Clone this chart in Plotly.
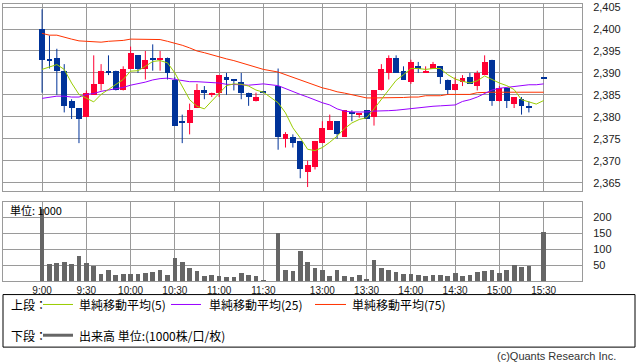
import plotly.graph_objects as go

# ---------------- data ----------------
am_times = [f"{9 + (5 * k) // 60}:{(5 * k) % 60:02d}" for k in range(31)]          # 9:00 .. 11:30
pm_times = [f"{12 + (30 + 5 * k) // 60}:{(30 + 5 * k) % 60:02d}" for k in range(37)]  # 12:30 .. 15:30
times = am_times + pm_times

open_ = [2400, 2393, 2393.5, 2390.5, 2383.5, 2382, 2380, 2385, 2387.5, 2390.5, 2390.5, 2386, 2391, 2394, 2391,
         2393.5, 2393, 2393.5, 2388.5, 2379, 2378.5, 2382, 2386, 2385, 2385.5, 2389, 2388.5, 2388, 2385.5, 2383.5, 2385.7,
         2387, 2375, 2375.5, 2374.5, 2367.5, 2368.5, 2374, 2377, 2379, 2375.5, 2381, 2380.3, 2381.5, 2380, 2386, 2390,
         2393.5, 2390.5, 2388, 2391.5, 2390, 2391, 2391.5, 2388.5, 2386, 2388, 2389, 2387, 2389.5, 2393, 2383.5, 2386.5,
         2383, 2384, 2382.5, None, 2389]
high = [2404.5, 2398.5, 2395.5, 2392, 2384, 2382, 2386, 2394, 2392, 2394, 2390.5, 2391.5, 2396, 2394, 2395,
        2396.5, 2395, 2393.5, 2389, 2380.5, 2383, 2387.5, 2387, 2385.5, 2389.5, 2390, 2388.5, 2390, 2385.5, 2385.5, 2385.7,
        2391, 2376.5, 2376, 2374.5, 2370, 2374.5, 2379, 2380.5, 2379, 2381.5, 2381.5, 2380.8, 2381.5, 2386, 2392, 2394,
        2394, 2391.5, 2393, 2392.5, 2391.5, 2392.5, 2391.5, 2388.5, 2389, 2389.5, 2390, 2390.5, 2394, 2393, 2387, 2386.5,
        2384.5, 2384.5, 2383.5, None, 2389]
low = [2385.5, 2391, 2385, 2381, 2379.5, 2374, 2380, 2385, 2386, 2389.5, 2386, 2386, 2391, 2390, 2388.5,
       2390.5, 2390.5, 2388.5, 2378, 2374, 2376, 2382, 2384, 2384.5, 2384.5, 2385, 2386, 2384, 2382.5, 2383.5, 2385.5,
       2372.5, 2373, 2373, 2366, 2364, 2368, 2374, 2377, 2375, 2375.5, 2379, 2379.8, 2379.5, 2378, 2386, 2388.5,
       2390, 2388.5, 2387.5, 2390, 2390, 2391, 2387.5, 2385, 2386, 2387, 2387.5, 2386, 2389.5, 2382.5, 2383.5, 2382,
       2382, 2380.5, 2381, None, 2388.8]
close = [2393, 2392.8, 2390.5, 2382.5, 2382, 2379.5, 2385.5, 2387.5, 2390.5, 2390, 2386, 2391, 2394.5, 2391, 2393,
         2393, 2393.5, 2390, 2378, 2378.5, 2381.5, 2386, 2385.5, 2385.5, 2389.5, 2388.5, 2388.2, 2385.5, 2384.5, 2384.5, 2385.5,
         2375.5, 2376, 2374, 2368, 2369, 2374.5, 2377.5, 2379, 2376, 2381.5, 2380.8, 2380.8, 2379.5, 2386, 2391, 2393.5,
         2390, 2388.5, 2392.5, 2391, 2390.5, 2392, 2389, 2386, 2387.5, 2388.8, 2387.5, 2390, 2392.5, 2383.5, 2386.5, 2383.5,
         2384.5, 2382.5, 2382, None, 2388.8]
volume = [225, 51, 54, 57, 51, 76, 54, 45, 20, 32, 17, 20, 20, 20, 23, 26, 32, 17, 70, 57, 39, 29, 14, 17, 14, 10,
          10, 23, 17, 14, 2,
          149, 35, 29, 92, 60, 40, 32, 14, 32, 14, 10, 17, 4, 64, 39, 35, 26, 20, 20, 17, 14, 17, 17, 14, 23, 14, 17,
          26, 31, 35, 23, 32, 48, 42, 45, None, 154]
ma5 = [2390.8, 2391.3, 2391.9, 2390.8, 2387.7, 2385.1, 2384.3, 2383.4, 2385.1, 2386.2, 2387.3, 2388.5, 2390.4, 2390.5,
       2391.5, 2392.6, 2392.8, 2392.3, 2390.0, 2387.0, 2383.9, 2382.4, 2381.8, 2383.6, 2385.3, 2387.1, 2387.5, 2387.4,
       2387.0, 2386.1, 2385.6,
       2383.2, 2380.9, 2377.5, 2375.2, 2372.6, 2372.3, 2373.0, 2374.2, 2375.6, 2377.3, 2378.6, 2379.4, 2379.8, 2381.8,
       2383.9, 2386.1, 2388.3, 2389.6, 2391.0, 2391.0, 2390.8, 2391.0, 2391.0, 2389.6, 2388.6, 2388.1, 2387.7, 2388.2,
       2389.3, 2388.5, 2387.7, 2387.1, 2386.2, 2383.9, 2383.4, 2382.9, 2383.7]
ma25 = [2384.2, 2384.4, 2384.7, 2384.7, 2384.5, 2384.5, 2385.1, 2385.3, 2385.8, 2386.1, 2386.4, 2386.7, 2387.2, 2387.5,
        2387.9, 2388.4, 2388.7, 2388.8, 2388.5, 2388.3, 2388.0, 2388.0, 2387.9, 2387.7, 2387.7, 2387.4, 2387.4, 2387.3,
        2387.2, 2387.3, 2387.5,
        2387.1, 2386.4, 2385.8, 2385.1, 2384.5, 2383.8, 2383.2, 2382.7, 2381.8, 2381.3, 2381.1, 2381.1, 2381.1, 2381.3,
        2381.3, 2381.4, 2381.5, 2381.7, 2381.8, 2382.0, 2382.2, 2382.4, 2382.5, 2382.6, 2382.7, 2383.5, 2383.9, 2384.5,
        2385.3, 2386.1, 2386.5, 2386.7, 2386.9, 2387.2, 2387.3, 2387.3, 2387.5]
ma75 = [2399.0, 2398.6, 2398.6, 2398.1, 2397.7, 2397.3, 2397.2, 2397.0, 2397.0, 2397.2, 2397.3, 2397.4, 2397.7, 2397.7,
        2397.7, 2397.7, 2397.6, 2397.2, 2396.8, 2396.3, 2395.7, 2395.0, 2394.6, 2394.1, 2393.6, 2393.2, 2392.8, 2392.3,
        2391.8, 2391.3, 2390.8,
        2390.2, 2389.6, 2388.9, 2388.3, 2387.8, 2387.2, 2386.6, 2386.2, 2385.7, 2385.4, 2385.0, 2384.6, 2384.3, 2384.3,
        2384.3, 2384.3, 2384.3, 2384.4, 2384.5, 2384.5, 2384.8, 2384.8, 2384.8, 2385.1, 2385.1, 2385.1, 2385.1, 2385.5,
        2385.6, 2385.6, 2385.6, 2385.6, 2385.6, 2385.6, 2385.6, 2385.6, 2385.6]

tick_labels = ["9:00", "9:30", "10:00", "10:30", "11:00", "11:30",
               "13:00", "13:30", "14:00", "14:30", "15:00", "15:30"]
price_ticks = [2365, 2370, 2375, 2380, 2385, 2390, 2395, 2400, 2405]
vol_ticks = [50, 100, 150, 200]

# ---------------- styling ----------------
RED = "#FF0033"
BLUE = "#003399"
GRID = "#9a9a9a"
W, H = 638, 362
FONT_T = "Liberation Sans, Arial, sans-serif"
FONT_J = "Noto Sans CJK JP, sans-serif"


def slot(t):
    h, m = map(int, t.split(":"))
    mins = h * 60 + m
    return (mins - 540) / 5 if mins <= 690 else (mins - 750) / 5 + 32


xs = [slot(t) for t in times]

fig = go.Figure()

# candle wicks and bodies
body_x, body_base, body_h, body_c = [], [], [], []
wick = {RED: ([], []), BLUE: ([], [])}
for x, o, h, l, c in zip(xs, open_, high, low, close):
    if o is None:
        continue
    col = RED if c > o else BLUE
    body_x.append(x)
    body_base.append(min(o, c))
    body_h.append(max(abs(c - o), 0.3))
    body_c.append(col)
    wx, wy = wick[col]
    wx += [x, x, None]
    wy += [l, h, None]

for col, (wx, wy) in wick.items():
    fig.add_trace(go.Scatter(x=wx, y=wy, mode="lines", line=dict(color=col, width=1),
                             hoverinfo="skip", xaxis="x", yaxis="y"))
fig.add_trace(go.Bar(x=body_x, y=body_h, base=body_base, width=0.8,
                     marker=dict(color=body_c, line=dict(width=0)), xaxis="x", yaxis="y"))

for vals, col in ((ma75, "#FF3300"), (ma25, "#9900FF"), (ma5, "#99CC00")):
    fig.add_trace(go.Scatter(x=xs, y=vals, mode="lines", line=dict(color=col, width=1),
                             xaxis="x", yaxis="y"))

fig.add_trace(go.Bar(x=xs, y=volume, width=0.64, marker=dict(color="#666666", line=dict(width=0)),
                     xaxis="x2", yaxis="y2"))

xdom = [3 / W, 582 / W]
tickvals = [slot(t) for t in tick_labels]
xcommon = dict(domain=xdom, range=[-5.3, 73.2], tickvals=tickvals, ticktext=tick_labels,
               showgrid=True, gridcolor=GRID, gridwidth=1, zeroline=False,
               showline=True, mirror=True, linecolor=GRID, linewidth=1, ticks="")
ycommon = dict(side="right", showgrid=True, gridcolor=GRID, gridwidth=1, zeroline=False,
               showline=True, mirror=True, linecolor=GRID, linewidth=1, ticks="",
               ticklabelstandoff=8, ticklabeloverflow="allow",
               tickfont=dict(family=FONT_T, size=11, color="#222"))

fig.update_layout(
    width=W, height=H, margin=dict(l=0, r=0, t=0, b=0),
    paper_bgcolor="white", plot_bgcolor="white", showlegend=False,
    barmode="overlay", bargap=0,
    xaxis=dict(**xcommon, anchor="y", showticklabels=False),
    yaxis=dict(**ycommon, domain=[1 - 190 / H, 1 - 1 / H], range=[2363, 2405.7],
               tickvals=price_ticks, tickformat=",", anchor="x"),
    xaxis2=dict(**xcommon, anchor="y2", showticklabels=True,
                tickfont=dict(family=FONT_T, size=10, color="#222")),
    yaxis2=dict(**ycommon, domain=[1 - 280.3 / H, 1 - 201 / H], range=[0, 247],
                tickvals=vol_ticks, anchor="x2"),
)


def py(y):
    return 1 - y / H


def px(x):
    return x / W


ann = [
    dict(text="単位: 1000", x=px(8), y=py(209), xanchor="left", yanchor="middle",
         font=dict(family=FONT_J, size=11, color="#000")),
    dict(text="上段：", x=px(9), y=py(304), xanchor="left", yanchor="middle",
         font=dict(family=FONT_J, size=12, color="#000")),
    dict(text="単純移動平均(5)", x=px(77), y=py(304), xanchor="left", yanchor="middle",
         font=dict(family=FONT_J, size=12, color="#000")),
    dict(text="単純移動平均(25)", x=px(207), y=py(304), xanchor="left", yanchor="middle",
         font=dict(family=FONT_J, size=12, color="#000")),
    dict(text="単純移動平均(75)", x=px(350), y=py(304), xanchor="left", yanchor="middle",
         font=dict(family=FONT_J, size=12, color="#000")),
    dict(text="下段：", x=px(9), y=py(335), xanchor="left", yanchor="middle",
         font=dict(family=FONT_J, size=12, color="#000")),
    dict(text="出来高 単位:(1000株/口/枚)", x=px(77), y=py(335), xanchor="left", yanchor="middle",
         font=dict(family=FONT_J, size=12, color="#000")),
    dict(text="(c)Quants Research Inc.", x=px(618), y=py(356), xanchor="right", yanchor="middle",
         font=dict(family=FONT_T, size=11, color="#333")),
]
for a in ann:
    a.update(xref="paper", yref="paper", showarrow=False)
fig.update_layout(annotations=ann)

shapes = [
    dict(type="rect", x0=px(3), x1=px(635), y0=py(347), y1=py(294), line=dict(color="#000", width=1)),
    dict(type="line", x0=px(43), x1=px(73), y0=py(304), y1=py(304), line=dict(color="#99CC00", width=1)),
    dict(type="line", x0=px(171), x1=px(201), y0=py(304), y1=py(304), line=dict(color="#9900FF", width=1)),
    dict(type="line", x0=px(315), x1=px(346), y0=py(304), y1=py(304), line=dict(color="#FF3300", width=1)),
    dict(type="line", x0=px(43), x1=px(73), y0=py(335), y1=py(335), line=dict(color="#666666", width=3)),
]
for s in shapes:
    s.update(xref="paper", yref="paper")
fig.update_layout(shapes=shapes)

fig.write_html("out.html", config={"displayModeBar": False},
               post_script="document.body.style.margin='0';")
